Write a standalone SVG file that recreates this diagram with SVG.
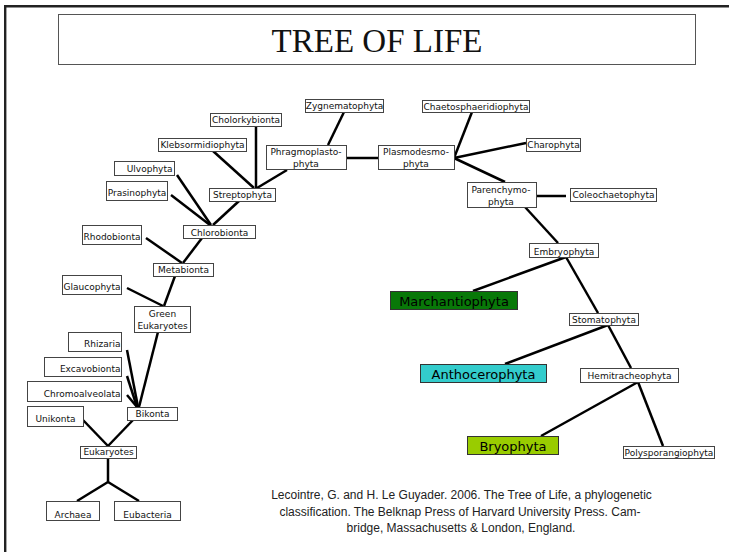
<svg xmlns="http://www.w3.org/2000/svg" width="729" height="552" viewBox="0 0 729 552">
<style>
.n rect{fill:#fff;stroke:#444;stroke-width:1}
.n text{font-family:"DejaVu Sans",Verdana,sans-serif;font-size:9px;fill:#111;text-anchor:middle}
.n text.r{text-anchor:end}
.c rect{stroke:#333;stroke-width:1}
.c text{font-family:"DejaVu Sans",Verdana,sans-serif;font-size:13px;fill:#000;text-anchor:middle}
#connectors path{fill:none;stroke:#000;stroke-width:2.5}
.cite{font-family:"Liberation Sans",Arial,sans-serif;font-size:12px;fill:#222;text-anchor:middle}
</style>
<rect width="729" height="552" fill="#fff"/>
<path d="M5.2,552 V6.2 H729" fill="none" stroke="#222" stroke-width="2.4"/>
<g id="title">
<rect x="58.5" y="14.5" width="637" height="50" fill="#fff" stroke="#555" stroke-width="1"/>
<text x="377" y="51.5" font-family="'Liberation Serif','Times New Roman',serif" font-size="33" text-anchor="middle" fill="#111">TREE OF LIFE</text>
</g>
<g id="connectors">
<path d="M256,126 V188"/>
<path d="M213,151 L254,188"/>
<path d="M287,170 L257,188"/>
<path d="M239,201 L213,225"/>
<path d="M177,175 L211,225"/>
<path d="M171,195 L210,225"/>
<path d="M202,238 L183,263"/>
<path d="M146,238 L182,263"/>
<path d="M175,276 L164,306"/>
<path d="M127,288 L163,306"/>
<path d="M158,332 L139,407"/>
<path d="M127,350 L138,407"/>
<path d="M127,376 L137,407"/>
<path d="M127,395 L137,407"/>
<path d="M133,420 L108,446"/>
<path d="M83,420 L108,446"/>
<path d="M108,458 V482"/>
<path d="M108,482 L77,501"/>
<path d="M108,482 L139,501"/>
<path d="M344,112 L328,145"/>
<path d="M346,158 H378"/>
<path d="M472,112 L454,158"/>
<path d="M454,158 L526,143"/>
<path d="M454,158 L505,182"/>
<path d="M536,196 H566"/>
<path d="M525,207 L558,243"/>
<path d="M566,257 L473,291"/>
<path d="M566,257 L598,313"/>
<path d="M608,325 L505,364"/>
<path d="M608,325 L631,368"/>
<path d="M638,382 L541,436"/>
<path d="M638,382 L663,446"/>
</g>
<g id="cholorkybionta" class="n"><rect x="210.5" y="113.5" width="71" height="13"/><text x="246" y="123">Cholorkybionta</text></g>
<g id="klebsormidiophyta" class="n"><rect x="158.5" y="138.5" width="88" height="13"/><text x="202.5" y="148">Klebsormidiophyta</text></g>
<g id="zygnematophyta" class="n"><rect x="305.5" y="99.5" width="78" height="13"/><text x="344.5" y="109">Zygnematophyta</text></g>
<g id="phragmoplastophyta" class="n"><rect x="266.5" y="145.5" width="80" height="24"/><text x="306" y="155">Phragmoplasto-</text><text x="306" y="166.5">phyta</text></g>
<g id="plasmodesmophyta" class="n"><rect x="378.5" y="145.5" width="76" height="24"/><text x="416" y="155">Plasmodesmo-</text><text x="416" y="166.5">phyta</text></g>
<g id="chaetosphaeridiophyta" class="n"><rect x="422.5" y="100.5" width="107" height="12"/><text x="476" y="109.5">Chaetosphaeridiophyta</text></g>
<g id="charophyta" class="n"><rect x="526.5" y="138.5" width="54" height="13"/><text x="553.5" y="148">Charophyta</text></g>
<g id="parenchymophyta" class="n"><rect x="467.5" y="182.5" width="69" height="25"/><text x="501" y="192.5">Parenchymo-</text><text x="501" y="204.5">phyta</text></g>
<g id="coleochaetophyta" class="n"><rect x="570.5" y="188.5" width="86" height="13"/><text x="613.5" y="198">Coleochaetophyta</text></g>
<g id="ulvophyta" class="n"><rect x="114.5" y="161.5" width="60" height="14"/><text class="r" x="172.5" y="171.5">Ulvophyta</text></g>
<g id="prasinophyta" class="n"><rect x="106.5" y="181.5" width="61" height="19"/><text x="137" y="195.5">Prasinophyta</text></g>
<g id="streptophyta" class="n"><rect x="209.5" y="188.5" width="66" height="13"/><text x="242.5" y="198">Streptophyta</text></g>
<g id="chlorobionta" class="n"><rect x="183.5" y="225.5" width="72" height="13"/><text x="219.5" y="235.5">Chlorobionta</text></g>
<g id="rhodobionta" class="n"><rect x="82.5" y="225.5" width="59" height="19"/><text x="112" y="240">Rhodobionta</text></g>
<g id="metabionta" class="n"><rect x="153.5" y="263.5" width="60" height="13"/><text x="183.5" y="273">Metabionta</text></g>
<g id="glaucophyta" class="n"><rect x="62.5" y="275.5" width="59" height="19"/><text x="92" y="290">Glaucophyta</text></g>
<g id="greeneukaryotes" class="n"><rect x="134.5" y="306.5" width="56" height="26"/><text x="162.5" y="316.5">Green</text><text x="162.5" y="329">Eukaryotes</text></g>
<g id="rhizaria" class="n"><rect x="68.5" y="332.5" width="53" height="19"/><text class="r" x="120.5" y="346.5">Rhizaria</text></g>
<g id="excavobionta" class="n"><rect x="44.5" y="357.5" width="77" height="19"/><text class="r" x="120.5" y="371.5">Excavobionta</text></g>
<g id="chromoalveolata" class="n"><rect x="27.5" y="381.5" width="94" height="20"/><text class="r" x="120.5" y="396.5">Chromoalveolata</text></g>
<g id="unikonta" class="n"><rect x="27.5" y="406.5" width="56" height="20"/><text x="55.5" y="421.5">Unikonta</text></g>
<g id="bikonta" class="n"><rect x="127.5" y="407.5" width="50" height="13"/><text x="152.5" y="416.5">Bikonta</text></g>
<g id="eukaryotes" class="n"><rect x="80.5" y="446.5" width="56" height="12"/><text x="108.5" y="455">Eukaryotes</text></g>
<g id="archaea" class="n"><rect x="46.5" y="501.5" width="53" height="19"/><text x="73" y="518">Archaea</text></g>
<g id="eubacteria" class="n"><rect x="114.5" y="501.5" width="66" height="19"/><text x="147.5" y="518">Eubacteria</text></g>
<g id="embryophyta" class="n"><rect x="529.5" y="243.5" width="69" height="14"/><text x="564" y="254.5">Embryophyta</text></g>
<g id="marchantiophyta" class="c"><rect x="390.5" y="291.5" width="127" height="18" fill="#087808"/><text x="454" y="305.5">Marchantiophyta</text></g>
<g id="stomatophyta" class="n"><rect x="569.5" y="313.5" width="69" height="12"/><text x="604" y="323">Stomatophyta</text></g>
<g id="anthocerophyta" class="c"><rect x="420.5" y="364.5" width="126" height="18" fill="#33CCCC"/><text x="483.5" y="379">Anthocerophyta</text></g>
<g id="hemitracheophyta" class="n"><rect x="580.5" y="368.5" width="98" height="14"/><text x="629.5" y="379">Hemitracheophyta</text></g>
<g id="bryophyta" class="c"><rect x="467.5" y="436.5" width="91" height="18" fill="#99CC00"/><text x="513" y="450.5">Bryophyta</text></g>
<g id="polysporangiophyta" class="n"><rect x="623.5" y="446.5" width="91" height="12"/><text x="669" y="455.5">Polysporangiophyta</text></g>
<g id="citation">
<text class="cite" x="461.5" y="499">Lecointre, G. and H. Le Guyader. 2006. The Tree of Life, a phylogenetic</text>
<text class="cite" x="460" y="515.5">classification. The Belknap Press of Harvard University Press. Cam-</text>
<text class="cite" x="461" y="532">bridge, Massachusetts &amp; London, England.</text>
</g>
</svg>
